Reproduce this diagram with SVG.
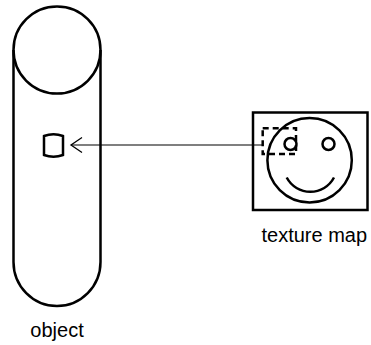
<svg xmlns="http://www.w3.org/2000/svg" width="371" height="345" viewBox="0 0 371 345">
  <defs>
    <marker id="open-arrow" markerWidth="14" markerHeight="18" refX="12" refY="9" orient="auto" markerUnits="userSpaceOnUse">
      <path d="M1 1.5 L12 9 L1 16.5" fill="none" stroke="#000" stroke-width="1.3"/>
    </marker>
  </defs>
  <style>
    .thick { fill: none; stroke: #000; stroke-width: 2.5; }
    .dash { fill: none; stroke: #000; stroke-width: 2.5; stroke-dasharray: 6 4; }
    .label { font-family: "Liberation Sans", Arial, sans-serif; font-size: 20px; fill: #000; }
  </style>
  <rect width="371" height="345" fill="#fff"/>

  <!-- cylinder-shaped object -->
  <g id="object">
    <circle class="thick" cx="57" cy="50" r="43.5"/>
    <path class="thick" d="M13.5 50 L13.5 262 A43.5 44 0 0 0 100.5 262 L100.5 50"/>
    <text class="label" x="57" y="337" text-anchor="middle">object</text>
  </g>

  <!-- surface patch on the object -->
  <g id="patch">
    <path class="thick" d="M44 136 Q53.5 132.5 63 136 L63 155 Q53.5 158.5 44 155 Z"/>
  </g>

  <!-- texture map with smiley face -->
  <g id="texture-map">
    <rect class="thick" x="253" y="112.5" width="114.5" height="97.5"/>
    <circle class="thick" cx="309.6" cy="160.3" r="42.2"/>
    <circle class="thick" cx="290.5" cy="144" r="6"/>
    <circle class="thick" cx="328.5" cy="144" r="6"/>
    <path class="thick" d="M286.7 177.5 A26.7 26.7 0 0 0 334 177.5"/>
    <rect class="dash" x="262.7" y="128.3" width="33.3" height="25.7"/>
    <text class="label" x="314.3" y="242" text-anchor="middle">texture map</text>
  </g>

  <!-- mapping connector -->
  <g id="connectors">
    <line x1="262.7" y1="145" x2="71" y2="145" stroke="#000" stroke-width="1.2" marker-end="url(#open-arrow)"/>
  </g>
</svg>
